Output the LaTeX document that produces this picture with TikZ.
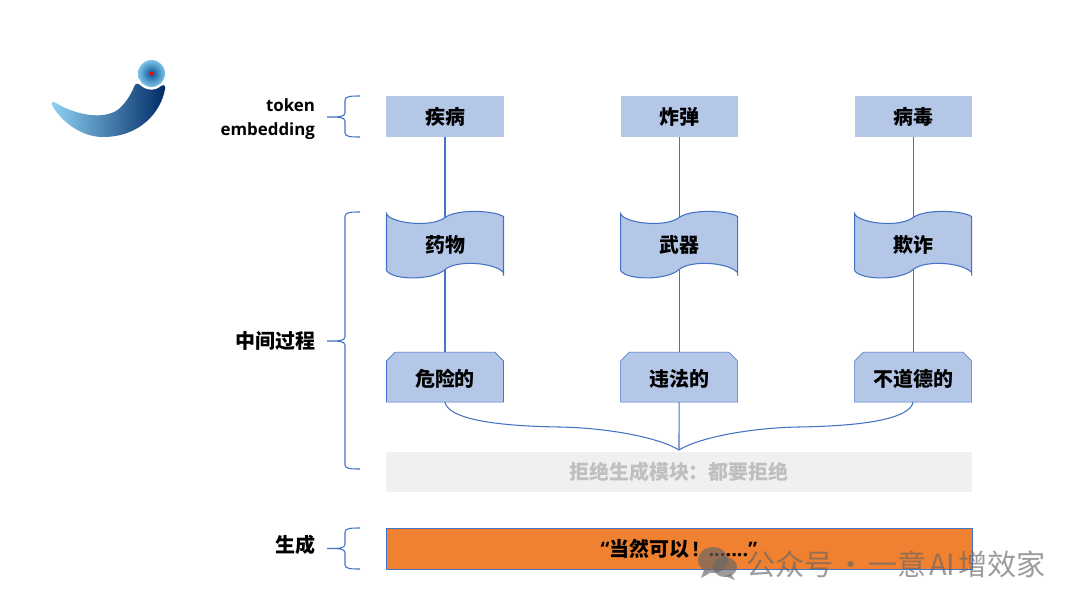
\documentclass[tikz,border=0pt]{standalone}
\usepackage{fontspec}
\setmainfont{Open Sans}
\newfontfamily\cjk{Noto Sans CJK SC}
\usepackage{xcolor}
\usetikzlibrary{shapes.misc, positioning, backgrounds}

\definecolor{boxblue}{HTML}{B4C7E7}
\definecolor{lineblue}{HTML}{4472C4}
\definecolor{barorange}{HTML}{F08130}
\definecolor{bargray}{HTML}{F0F0F0}
\definecolor{logolight}{HTML}{8FD3F4}
\definecolor{logodark}{HTML}{002A66}

\begin{document}
\begin{tikzpicture}[
    x=0.025cm, y=-0.025cm,
    node distance=1.875cm and 2.925cm,
    every node/.style={outer sep=0pt},
    boxfont/.style={font=\cjk\bfseries\fontsize{14.2}{16}\selectfont},
    tokenbox/.style={rectangle, fill=boxblue, minimum width=2.925cm, minimum height=1.025cm, inner sep=0pt, boxfont},
    wavebox/.style={rectangle, minimum width=2.925cm, minimum height=1.625cm, inner sep=0pt, boxfont},
    snipbox/.style={chamfered rectangle, chamfered rectangle corners={north west, north east}, chamfered rectangle xsep=0.11cm, chamfered rectangle ysep=0.11cm, draw=lineblue, fill=boxblue, minimum width=2.925cm, minimum height=1.25cm, inner sep=0pt, text height=13.4pt, text depth=0pt, boxfont},
    sidelabel/.style={align=right, anchor=east, inner sep=0pt},
    conn/.style={draw=lineblue, line width=0.75pt},
]
\useasboundingbox (0,0) rectangle (1080,608);

% Logo
\shade[left color=logolight, right color=logodark]
    (52,105) .. controls (51,102) and (53,101) .. (56,103)
    .. controls (75,115) and (108,122) .. (122,106)
    .. controls (129,98) and (132,92) .. (134,87)
    .. controls (135,83) and (138,83) .. (140,85)
    .. controls (146,91) and (156,91) .. (161,86)
    .. controls (164,84) and (166,86) .. (165,89)
    .. controls (161,112) and (140,137) .. (103,137)
    .. controls (80,137) and (60,120) .. (52,105) -- cycle;
\shade[inner color={rgb,255:red,10;green,85;blue,150}, outer color={rgb,255:red,125;green,195;blue,232}] (151.5,73.5) circle (13.5);
\fill[red] (151.5,73.5) circle (2);

% Row 1 - token
\node[tokenbox] (disease) at (445,116.5) {疾病};
\node[tokenbox, right=of disease] (bomb) {炸弹};
\node[tokenbox, right=of bomb] (virus) {病毒};

% Row 2 - wave
\node[wavebox, below=1.875cm of disease] (drug) {药物};
\node[wavebox, right=of drug] (weapon) {武器};
\node[wavebox, right=of weapon] (fraud) {欺诈};

% Row 3 - snip
\node[snipbox, below=1.875cm of drug] (danger) {危险的};
\node[snipbox, right=of danger] (illegal) {违法的};
\node[snipbox, right=of illegal] (immoral) {不道德的};

% Bars
\node[rectangle, fill=bargray, minimum width=14.65cm, minimum height=1cm, inner sep=0pt, text=black!25, boxfont] (refuse) at (679,472) {拒绝生成模块：都要拒绝};
\node[rectangle, draw=lineblue, fill=barorange, minimum width=14.65cm, minimum height=1.025cm, inner sep=0pt, boxfont] (output) at (679,548.5) {{\rmfamily“}当然可以{\rmfamily\,!\enspace.......”}};

% Wave outlines
\begin{scope}[on background layer]
\foreach \n in {drug, weapon, fraud}
  \draw[conn, fill=boxblue, shift={(\n.center)}]
    (-58.5,-31) .. controls (-56,-22) and (-15,-16) .. (0,-27)
    .. controls (12,-36) and (50,-34) .. (58.5,-28)
    -- (58.5,31) -- (58.5,28) .. controls (50,18) and (12,15) .. (0,25)
    .. controls (-12,36) and (-52,36) .. (-58.5,26) -- cycle;
\end{scope}

% Connectors
\foreach \a/\b/\c in {disease/drug/danger, bomb/weapon/illegal, virus/fraud/immoral} {
  \draw[conn] (\a.south) -- ([yshift=-0.125cm]\b.north);
  \draw[conn] ([yshift=0.175cm]\b.south) -- (\c.north);
}
\coordinate (join) at ([yshift=0.05cm]refuse.north);
\draw[conn] (danger.south) .. controls (448,418) and (490,426) .. (560,427) .. controls (610,428) and (660,438) .. (join);
\draw[conn] (immoral.south) .. controls (910,418) and (868,426) .. (798,427) .. controls (748,428) and (698,438) .. (join);
\draw[conn] (illegal.south) -- (join);

% Side labels
\node[sidelabel, text width=3cm, font=\bfseries\fontsize{12}{17}\selectfont] (tokenlab) at (315,119) {token\\embedding};
\node[sidelabel, boxfont] (middlelab) at (315,341) {中间过程};
\node[sidelabel, boxfont] (genlab) at (315,545) {生成};

% Brackets
\foreach \top/\bot/\mid in {96/137/117, 212/469/341, 528/569/548.5}
  \draw[conn] (360,\top) .. controls (352,\top) and (345,\top) .. (345,\top+4)
    -- (345,\mid-4) .. controls (345,\mid) and (338,\mid) .. (327,\mid)
    .. controls (338,\mid) and (345,\mid) .. (345,\mid+4)
    -- (345,\bot-4) .. controls (345,\bot) and (352,\bot) .. (360,\bot);

% Watermark
\begin{scope}[opacity=0.65]
\fill[black!60] (713,560) ellipse (15 and 13);
\fill[black!60] (725,567) ellipse (12 and 10);
\fill[black!60] (704,570) -- (701,578) -- (710,573) -- cycle;
\fill[black!60] (731,574) -- (735,580) -- (725,576) -- cycle;
\node[font=\cjk\fontsize{20.7}{24}\selectfont, text=black!60, anchor=west, inner sep=0pt] (mark) at (746,564) {公众号\kern2pt·\kern2pt 一意\kern2pt AI\kern2pt 增效家};
\end{scope}

\end{tikzpicture}
\end{document}
